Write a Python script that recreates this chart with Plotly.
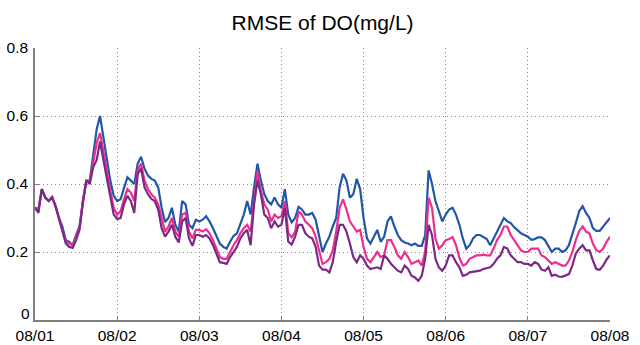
import pandas as pd
import plotly.graph_objects as go

start = "2015-08-01 00:00"
times = pd.date_range(start, periods=169, freq="h")

blue = [
 .33, .325, .385, .36, .35, .362, .335, .30, .275, .235, .23, .22, .25, .275, .35, .41, .41, .48, .56, .60, .54, .47, .41, .365,
 .35, .355, .39, .42, .41, .40, .46, .48, .445, .425, .415, .41, .39, .33, .288, .30, .33, .28, .26, .35, .34, .28, .27, .295,
 .29, .295, .305, .29, .27, .245, .225, .215, .21, .23, .247, .255, .28, .31, .35, .31, .39, .46, .41, .37, .35, .34, .36, .34,
 .33, .385, .31, .287, .30, .333, .325, .31, .31, .315, .295, .25, .20, .225, .245, .275, .30, .39, .43, .41, .36, .37, .415, .385,
 .30, .24, .225, .245, .265, .23, .245, .29, .305, .275, .25, .235, .228, .225, .22, .225, .218, .218, .25, .44, .40, .35, .32, .29,
 .31, .325, .33, .31, .28, .24, .21, .22, .24, .25, .25, .245, .238, .22, .24, .26, .28, .30, .29, .285, .273, .265, .255, .25,
 .245, .236, .238, .243, .243, .235, .218, .20, .21, .21, .20, .205, .22, .25, .285, .32, .335, .315, .30, .27, .262, .262, .275, .29,
 .30]

pink = [
 .33, .325, .385, .36, .35, .362, .335, .30, .27, .23, .225, .22, .245, .27, .35, .41, .405, .46, .52, .55, .50, .44, .38, .33,
 .31, .32, .355, .385, .375, .35, .44, .46, .41, .385, .37, .36, .34, .30, .26, .275, .30, .26, .245, .31, .315, .26, .24, .265,
 .265, .26, .267, .255, .235, .21, .185, .18, .18, .20, .22, .235, .255, .27, .28, .26, .34, .435, .38, .34, .325, .29, .31, .30,
 .305, .35, .255, .243, .26, .32, .31, .29, .28, .27, .245, .20, .165, .17, .18, .205, .26, .33, .355, .325, .29, .275, .26, .265,
 .215, .18, .17, .185, .20, .185, .19, .235, .235, .215, .19, .18, .20, .185, .165, .17, .175, .16, .20, .36, .33, .24, .21, .22,
 .235, .238, .244, .22, .183, .16, .165, .18, .185, .19, .19, .192, .19, .19, .21, .235, .25, .275, .275, .25, .235, .22, .205, .20,
 .20, .21, .21, .21, .19, .185, .175, .165, .17, .165, .16, .16, .175, .20, .235, .262, .275, .26, .255, .225, .205, .20, .21, .23,
 .245]

purple = [
 .33, .315, .385, .36, .35, .36, .335, .30, .265, .225, .215, .212, .235, .265, .345, .41, .40, .45, .47, .525, .47, .42, .36, .31,
 .297, .30, .34, .365, .35, .315, .43, .445, .39, .37, .356, .35, .325, .27, .245, .26, .28, .245, .228, .29, .30, .24, .218, .25,
 .25, .245, .25, .24, .22, .195, .17, .168, .165, .185, .20, .215, .24, .255, .265, .22, .34, .41, .37, .31, .30, .27, .29, .275,
 .28, .33, .23, .222, .245, .28, .28, .255, .245, .24, .215, .16, .148, .148, .14, .17, .23, .28, .28, .26, .225, .185, .17, .19,
 .18, .16, .15, .152, .155, .15, .19, .18, .165, .155, .145, .14, .16, .15, .13, .125, .115, .13, .18, .28, .25, .18, .155, .145,
 .16, .19, .19, .17, .155, .13, .133, .14, .142, .143, .145, .15, .152, .155, .165, .18, .19, .215, .21, .19, .18, .17, .17, .165,
 .165, .16, .17, .165, .148, .145, .155, .13, .133, .128, .127, .13, .135, .16, .195, .21, .22, .205, .205, .175, .15, .148, .16, .178,
 .19]

y_ticks = [0, 0.2, 0.4, 0.6, 0.8]
y_labels = ["0", "0.2", "0.4", "0.6", "0.8"]

series = [("blue", blue, "#2257a8"), ("pink", pink, "#ec2f8e"), ("purple", purple, "#7a2a86")]

fig = go.Figure()
for name, vals, col in series:
    fig.add_trace(go.Scatter(x=times, y=vals, mode="lines", name=name,
                             line=dict(color=col, width=2.2)))

font = "Liberation Sans, Arial, sans-serif"
fig.update_layout(
    width=640, height=345,
    margin=dict(l=35, r=30, t=48, b=25),
    paper_bgcolor="white", plot_bgcolor="white",
    showlegend=False,
    title=dict(text="RMSE of DO(mg/L)", x=0.504, xanchor="center", y=0.935, yanchor="middle",
               font=dict(family=font, size=21, color="black")),
    font=dict(family=font, size=15.5, color="black"),
)
fig.update_xaxes(
    range=["2015-08-01", "2015-08-08"], type="date",
    tickformat="%m/%d", dtick=86400000, tick0="2015-08-01",
    showgrid=True, gridcolor="#8c8c8c", griddash="1px,3px", gridwidth=1,
    showline=True, linecolor="#808080", linewidth=1.5,
    ticks="inside", ticklen=4, tickcolor="#808080",
    ticklabelstandoff=1, automargin=False,
    zeroline=False,
)
fig.update_yaxes(
    range=[0, 0.8], tickvals=y_ticks[1:],
    ticktext=y_labels[1:],
    showgrid=True, gridcolor="#8c8c8c", griddash="1px,3px", gridwidth=1,
    showline=True, linecolor="#808080", linewidth=1.5,
    ticks="inside", ticklen=4, tickcolor="#808080",
    ticklabelstandoff=2, automargin=False,
    zeroline=False,
)
fig.add_annotation(x=0, xref="paper", y=y_ticks[0], yref="y", text=y_labels[0],
                   showarrow=False, xanchor="right", yanchor="middle",
                   xshift=-3, yshift=7, font=dict(family=font, size=15.5, color="black"))
fig.write_html("out.html")
